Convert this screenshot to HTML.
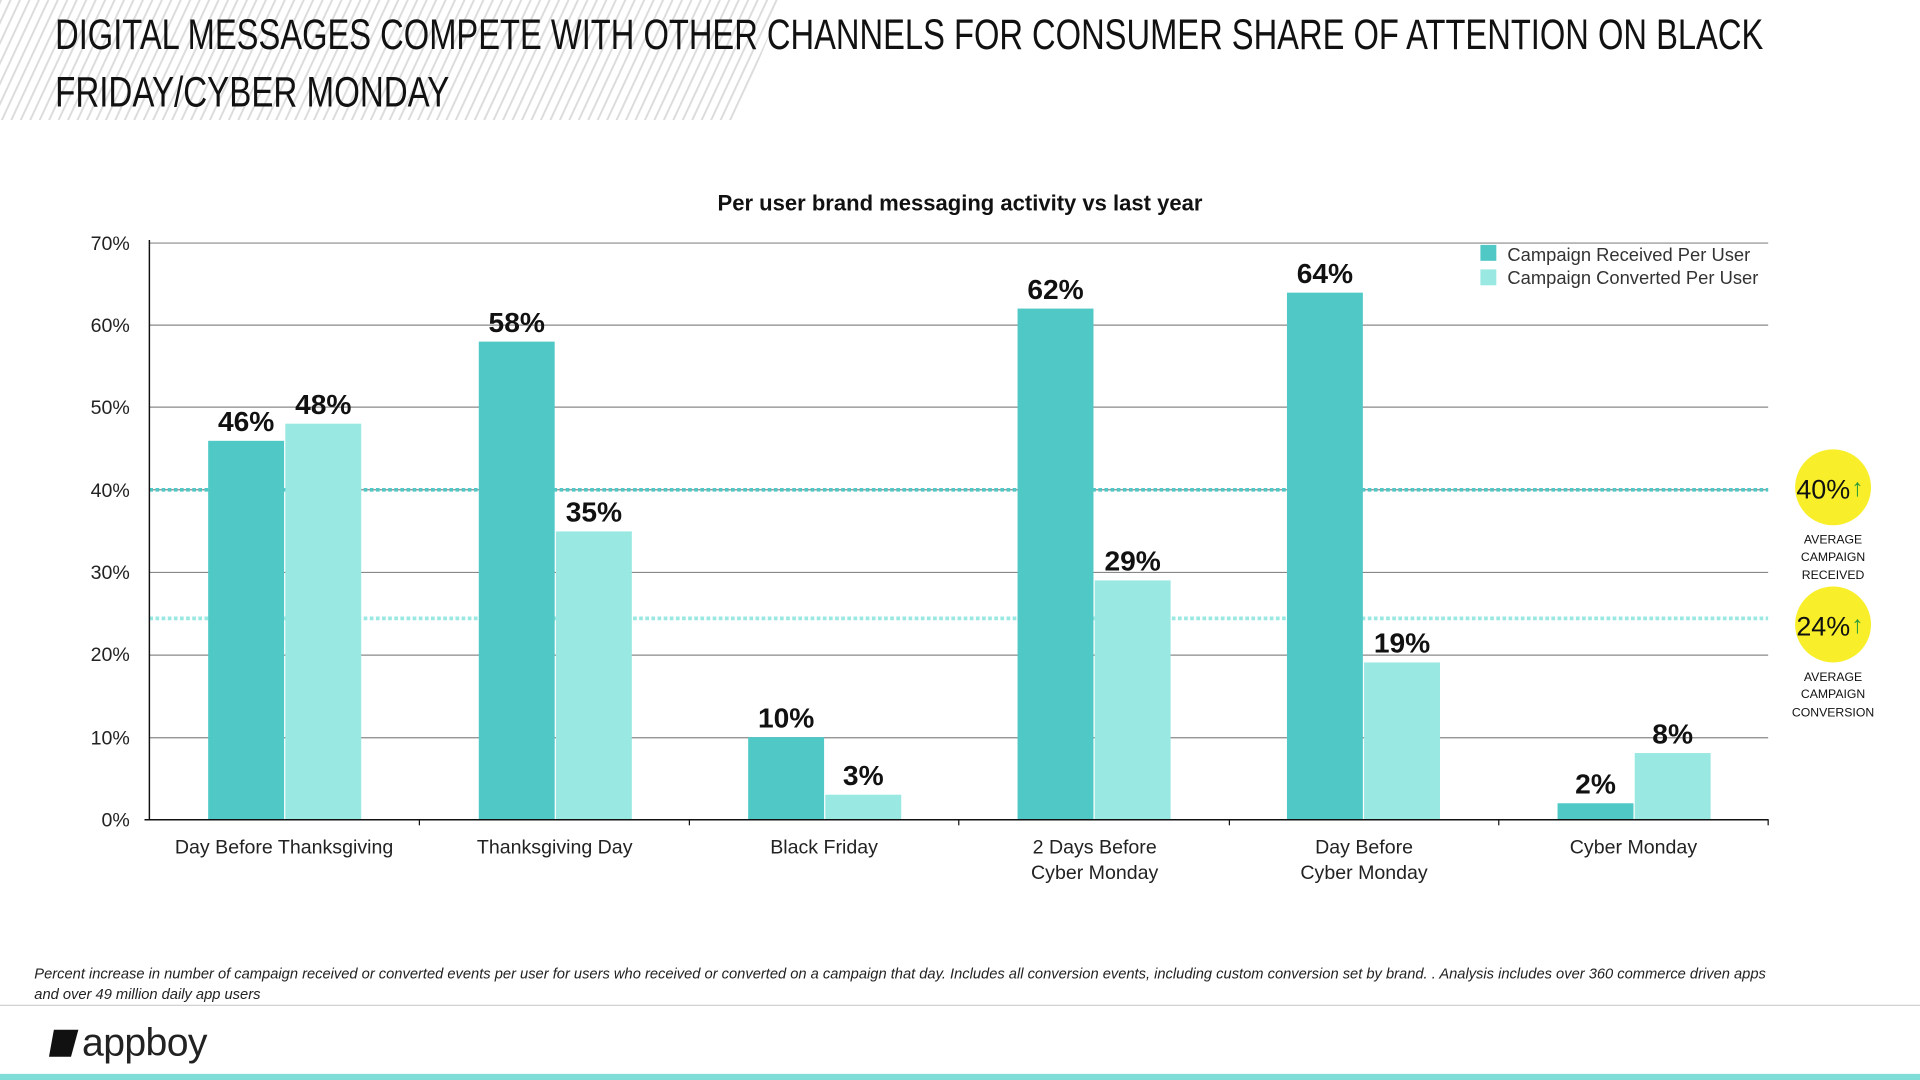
<!DOCTYPE html>
<html><head><meta charset="utf-8"><style>
html,body{margin:0;padding:0;background:#fff;width:1920px;height:1080px;overflow:hidden}
svg{display:block}
text{font-family:"Liberation Sans",sans-serif}
</style></head><body>
<svg width="1920" height="1080" viewBox="0 0 1568 882" xmlns="http://www.w3.org/2000/svg">
<defs>
<pattern id="h" width="7" height="7" patternUnits="userSpaceOnUse" patternTransform="rotate(25)">
<rect width="7" height="7" fill="#fff"/><rect width="1.6" height="7" fill="#dcdcdc"/>
</pattern>
</defs>
<polygon points="0,0 640,0 600,98 0,98" fill="url(#h)"/>
<text x="45" y="40" font-family="'Liberation Sans Narrow','Liberation Sans',sans-serif" font-size="35" fill="#111" textLength="1395" lengthAdjust="spacingAndGlyphs">DIGITAL MESSAGES COMPETE WITH OTHER CHANNELS FOR CONSUMER SHARE OF ATTENTION ON BLACK</text>
<text x="45" y="87" font-family="'Liberation Sans Narrow','Liberation Sans',sans-serif" font-size="35" fill="#111" textLength="322" lengthAdjust="spacingAndGlyphs">FRIDAY/CYBER MONDAY</text>
<text x="784" y="172" text-anchor="middle" font-size="18" font-weight="bold" fill="#111">Per user brand messaging activity vs last year</text>
<g stroke="#888" stroke-width="1">
<line x1="122" x2="1444" y1="198.5" y2="198.5"/><line x1="122" x2="1444" y1="265.5" y2="265.5"/>
<line x1="122" x2="1444" y1="332.5" y2="332.5"/><line x1="122" x2="1444" y1="400" y2="400"/>
<line x1="122" x2="1444" y1="467.5" y2="467.5"/><line x1="122" x2="1444" y1="535" y2="535"/>
<line x1="122" x2="1444" y1="602.5" y2="602.5"/>
</g>
<g font-size="16" fill="#222" text-anchor="end">
<text x="106" y="204">70%</text><text x="106" y="271">60%</text><text x="106" y="338">50%</text>
<text x="106" y="406">40%</text><text x="106" y="473">30%</text><text x="106" y="540">20%</text>
<text x="106" y="608">10%</text><text x="106" y="675">0%</text>
</g>
<line x1="122" x2="1444" y1="400" y2="400" stroke="#50c8c6" stroke-width="3" stroke-dasharray="3,2"/>
<line x1="122" x2="1444" y1="505" y2="505" stroke="#99e8e2" stroke-width="3" stroke-dasharray="3,2"/>
<g fill="#50c8c6">
<rect x="170" y="360" width="62" height="309"/><rect x="391" y="279" width="62" height="390"/>
<rect x="611" y="602" width="62" height="67"/><rect x="831" y="252" width="62" height="417"/>
<rect x="1051" y="239" width="62" height="430"/><rect x="1272" y="656" width="62" height="13"/>
</g>
<g fill="#99e8e2">
<rect x="233" y="346" width="62" height="323"/><rect x="454" y="434" width="62" height="235"/>
<rect x="674" y="649" width="62" height="20"/><rect x="894" y="474" width="62" height="195"/>
<rect x="1114" y="541" width="62" height="128"/><rect x="1335" y="615" width="62" height="54"/>
</g>
<line x1="122" x2="122" y1="196" y2="670" stroke="#111" stroke-width="1.2"/>
<line x1="118" x2="1444" y1="669.5" y2="669.5" stroke="#111" stroke-width="1.2"/>
<g stroke="#111"><line x1="342.5" x2="342.5" y1="669" y2="674"/><line x1="563" x2="563" y1="669" y2="674"/><line x1="783" x2="783" y1="669" y2="674"/><line x1="1004" x2="1004" y1="669" y2="674"/><line x1="1224" x2="1224" y1="669" y2="674"/><line x1="1444" x2="1444" y1="669" y2="674"/></g>
<g font-size="23" font-weight="bold" fill="#111" text-anchor="middle">
<text x="201" y="352">46%</text><text x="264" y="338">48%</text><text x="422" y="271">58%</text>
<text x="485" y="426">35%</text><text x="642" y="594">10%</text><text x="705" y="641">3%</text>
<text x="862" y="244">62%</text><text x="925" y="466">29%</text><text x="1082" y="231">64%</text>
<text x="1145" y="533">19%</text><text x="1303" y="648">2%</text><text x="1366" y="607">8%</text>
</g>
<g font-size="16" fill="#222" text-anchor="middle">
<text x="232" y="697">Day Before Thanksgiving</text><text x="453" y="697">Thanksgiving Day</text>
<text x="673" y="697">Black Friday</text><text x="894" y="697">2 Days Before</text><text x="894" y="718">Cyber Monday</text>
<text x="1114" y="697">Day Before</text><text x="1114" y="718">Cyber Monday</text><text x="1334" y="697">Cyber Monday</text>
</g>
<rect x="1209" y="200" width="13" height="13" fill="#50c8c6"/><rect x="1209" y="220" width="13" height="13" fill="#99e8e2"/>
<text x="1231" y="213" font-size="15" fill="#333">Campaign Received Per User</text>
<text x="1231" y="232" font-size="15" fill="#333">Campaign Converted Per User</text>
<circle cx="1497" cy="398" r="31" fill="#f8ef2a"/><circle cx="1497" cy="510" r="31" fill="#f8ef2a"/>
<text x="1489" y="407" text-anchor="middle" font-family="'Liberation Sans Narrow','Liberation Sans',sans-serif" font-size="22" fill="#111">40%</text>
<text x="1489" y="519" text-anchor="middle" font-family="'Liberation Sans Narrow','Liberation Sans',sans-serif" font-size="22" fill="#111">24%</text>
<text x="1517" y="405" text-anchor="middle" font-size="20" font-weight="bold" fill="#2a9a3a">↑</text>
<text x="1517" y="517" text-anchor="middle" font-size="20" font-weight="bold" fill="#2a9a3a">↑</text>
<g font-family="'Liberation Sans Narrow','Liberation Sans',sans-serif" font-size="10" fill="#111" text-anchor="middle">
<text x="1497" y="444">AVERAGE</text><text x="1497" y="458">CAMPAIGN</text><text x="1497" y="473">RECEIVED</text>
<text x="1497" y="556">AVERAGE</text><text x="1497" y="570">CAMPAIGN</text><text x="1497" y="585">CONVERSION</text>
</g>
<text x="28" y="799" font-size="12" font-style="italic" fill="#222">Percent increase in number of campaign received or converted events per user for users who received or converted on a campaign that day.  Includes all conversion events, including custom conversion set by brand. .  Analysis includes over 360 commerce driven apps</text>
<text x="28" y="816" font-size="12" font-style="italic" fill="#222">and over 49 million daily app users</text>
<line x1="0" x2="1568" y1="821" y2="821" stroke="#ccc"/>
<polygon points="44,841 64,841 58,863 40,863" fill="#111"/>
<text x="67" y="862" font-size="32" fill="#222" letter-spacing="-0.5">appboy</text>
<rect x="0" y="877" width="1568" height="5" fill="#7fdcd6"/>
</svg>
</body></html>
